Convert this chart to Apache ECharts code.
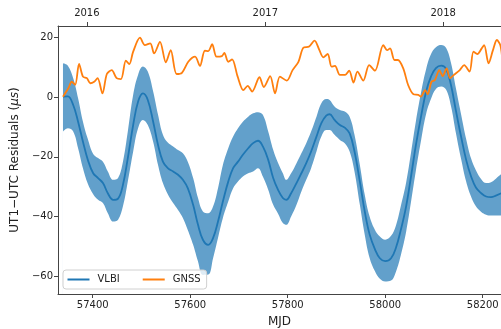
<!DOCTYPE html>
<html><head><meta charset="utf-8">
<script src="https://cdn.jsdelivr.net/npm/echarts@6/dist/echarts.min.js"></script>
<style>html,body{margin:0;padding:0;background:#fff}#c{width:501px;height:329px}</style>
</head><body><div id="c"></div>
<script>
const vlbiMjd = [57339,57349,57360,57370,57380,57390,57401,57411,57421,57431,57442,57452,57462,57472,57483,57493,57503,57513,57524,57534,57544,57554,57565,57575,57585,57595,57606,57616,57626,57637,57647,57657,57667,57678,57688,57698,57708,57719,57729,57739,57749,57760,57770,57780,57790,57797,57807,57818,57828,57838,57848,57859,57869,57879,57886,57896,57907,57917,57927,57937,57948,57958,57968,57979,57989,58000,58012,58022,58032,58043,58053,58063,58074,58084,58094,58104,58115,58125,58135,58145,58156,58166,58176,58186,58197,58207,58217,58227,58238];
const vlbiMean = [0.2,0.3,-2.6,-8.2,-14.9,-21,-25.5,-27.1,-28.8,-32.2,-34.4,-34,-29.4,-20.4,-9.3,-1.5,1.3,-0.9,-8.2,-16,-21.6,-23.8,-24.9,-26,-27.7,-30.5,-36.1,-42.8,-47.8,-49.5,-47.2,-41.7,-35,-28.3,-23.8,-21.6,-19.3,-17.1,-15.4,-14.6,-16.5,-21,-27,-31,-33.8,-34.4,-32.2,-28.8,-25.5,-22.1,-18.2,-13.2,-8.7,-6.2,-5.7,-7.6,-9.3,-10.2,-12.1,-18.2,-28.3,-38.3,-46,-51,-54,-55,-54,-50.5,-44.5,-36.5,-26.5,-16,-6,2,7,9.8,10.6,9.5,4,-4.5,-13.5,-21,-26.5,-30.3,-32.2,-33.3,-33.5,-33,-32.2];
const vlbiUpper = [11.4,10.6,6.4,-0.3,-8.2,-14,-19,-20.4,-21.6,-24.9,-27.7,-27.1,-21.6,-11.5,0.8,7.5,10.3,8.6,1.9,-5.9,-12.6,-15.2,-16.5,-17.7,-18.8,-21.6,-27.1,-33.8,-38.3,-38.9,-36.6,-30.5,-22.7,-17.1,-13.2,-10.4,-8.2,-6.5,-5.4,-5,-5.9,-11.5,-17.5,-22,-25.5,-27.7,-25.5,-22.1,-18.8,-15.4,-11.5,-6.5,-2,-0.6,-0.9,-3.1,-4.3,-4.8,-6.5,-12.6,-22.7,-32.7,-40,-44.5,-46.7,-47.8,-46.5,-43,-36.5,-28.5,-18.5,-8,2,9.5,14.5,16.8,17.5,16.5,11.5,3,-6,-14,-20.5,-24.5,-27.5,-28.8,-28.5,-27.3,-25.8];
const vlbiLower = [-11.5,-10.4,-11.5,-17.1,-23.8,-29,-32.5,-34.4,-35.5,-38.9,-41.7,-41.1,-36.6,-28.3,-18.2,-10.4,-7.6,-9.3,-14.9,-22.7,-28.8,-32.5,-35.5,-37.8,-40.5,-44.5,-49.5,-55.1,-59.6,-59.5,-53.9,-47.2,-40.5,-35,-30.5,-28.3,-26.6,-25.5,-24.9,-23.8,-26.6,-31,-36,-39,-42.2,-42.8,-40,-36.1,-31.6,-27.7,-23.8,-18.2,-13.2,-11,-11,-12.6,-14.3,-15.4,-18.2,-24.9,-36.1,-46.1,-53.9,-58.4,-60.9,-61.8,-61.5,-58.5,-53,-45,-35,-24.5,-14,-5.5,-0.5,2.8,3.6,2.5,-3,-12,-21,-28.3,-33.3,-36.6,-38.5,-39.4,-39.7,-39.7,-39.7];
const gnssMjd = [57339,57350,57357,57364,57372,57380,57388,57395,57403,57410,57420,57429,57439,57449,57458,57468,57475,57483,57497,57507,57518,57526,57538,57550,57560,57572,57583,57596,57610,57620,57630,57637,57645,57654,57665,57670,57678,57686,57697,57709,57718,57727,57742,57751,57764,57774,57784,57798,57810,57822,57832,57844,57855,57865,57873,57882,57890,57897,57907,57918,57926,57935,57943,57955,57967,57979,57996,58004,58010,58019,58026,58037,58047,58058,58068,58073,58082,58087,58095,58102,58111,58118,58126,58133,58141,58153,58162,58173,58181,58189,58198,58203,58212,58221,58229,58236,58240];
const gnssVal = [0.2,3.0,5.2,4.2,11.2,6.9,6.4,4.7,5.2,6.4,1.3,7.8,9.1,6.4,6.1,12.3,11.1,15.3,20.0,17.5,18.1,14.7,18.6,11.7,15.8,7.8,8.2,11.9,13.6,10.5,15.6,15.5,17.8,13.6,13.8,14.9,11.9,12.7,7.1,2.4,3.8,1.9,6.7,3.4,7.1,1.3,6.9,5.6,9.1,11.9,16.6,17.0,19.0,15.8,13.4,14.5,10.3,10.5,7.5,7.5,8.9,4.9,8.6,5.6,10.8,8.9,17.5,15.8,16.4,12.5,12.5,9.7,4.1,1.0,0.8,0.2,2.4,1.0,5.2,5.8,9.1,7.1,9.7,6.4,7.5,9.1,10.8,8.6,15.3,14.5,16.4,17.5,11.4,15.8,19.2,17.5,13];
const mjdTicks = [57400,57600,57800,58000,58200];
const yTicks = [-60,-40,-20,0,20];
const yearTickMjd = [57388,57754,58119];
const yearLabels = ['2016','2017','2018'];

const FONT = 'DejaVu Sans';
const TXT = '#222';
const AX = '#444';
const xMin = 57328.8, xMax = 58237.5, yMin = -66.0, yMax = 23.9;
const pair = (xs, ys) => xs.map((x, i) => [x, ys[i]]);
const minus = v => String(v).replace('-', '\u2212');

const chart = echarts.init(document.getElementById('c'), null, {renderer: 'canvas'});
chart.setOption({
  animation: false,
  backgroundColor: '#fff',
  textStyle: {fontFamily: FONT},
  grid: {left: 58, right: 0, top: 26, bottom: 35, containLabel: false, outerBoundsMode: 'none'},
  xAxis: [{
    type: 'value', min: xMin, max: xMax, position: 'bottom', z: 10,
    name: 'MJD', nameLocation: 'middle', nameGap: 22,
    nameTextStyle: {fontFamily: FONT, fontSize: 12, color: TXT},
    axisLine: {show: true, onZero: false, lineStyle: {color: AX, width: 1}},
    axisTick: {show: true, inside: false, length: 4, lineStyle: {color: AX}, customValues: mjdTicks},
    axisLabel: {fontFamily: FONT, fontSize: 10, color: TXT, margin: 6, customValues: mjdTicks, formatter: v => String(v)},
    splitLine: {show: false}
  }, {
    type: 'value', min: xMin, max: xMax, position: 'top', z: 10,
    axisLine: {show: true, onZero: false, lineStyle: {color: AX, width: 1}},
    axisTick: {show: true, inside: false, length: 4, lineStyle: {color: AX}, customValues: yearTickMjd},
    axisLabel: {fontFamily: FONT, fontSize: 10, color: TXT, margin: 8, customValues: yearTickMjd,
      formatter: v => yearLabels[yearTickMjd.indexOf(v)] || ''},
    splitLine: {show: false}
  }],
  yAxis: {
    type: 'value', min: yMin, max: yMax, z: 10,
    name: '{n|UT1\u2212UTC Residuals (}{i|\u03bcs}{n|)}', nameLocation: 'middle', nameGap: 36, nameRotate: 90,
    nameTextStyle: {fontFamily: FONT, fontSize: 12, color: TXT,
      rich: {n: {fontFamily: FONT, fontSize: 12, color: TXT}, i: {fontFamily: FONT, fontSize: 12, color: TXT, fontStyle: 'italic'}}},
    axisLine: {show: true, onZero: false, lineStyle: {color: AX, width: 1}},
    axisTick: {show: true, inside: false, length: 4, lineStyle: {color: AX}, customValues: yTicks},
    axisLabel: {fontFamily: FONT, fontSize: 10, color: TXT, margin: 5, customValues: yTicks, formatter: minus},
    splitLine: {show: false}
  },
  legend: {
    data: ['VLBI', 'GNSS'], left: 63, top: 270, orient: 'horizontal', z: 20,
    icon: 'rect', itemWidth: 22, itemHeight: 2, itemGap: 23,
    padding: [3, 6, 3, 4.5],
    backgroundColor: 'rgba(255,255,255,0.8)', borderColor: '#d0d0d0', borderWidth: 1, borderRadius: 3,
    textStyle: {fontFamily: FONT, fontSize: 10, color: TXT, lineHeight: 13, padding: [0, 0, 0, 3]}
  },
  series: [{
    name: 'bandUpper', type: 'line', data: pair(vlbiMjd, vlbiUpper),
    symbol: 'none', smooth: 0.4, lineStyle: {width: 0, opacity: 0}, silent: true, z: 1,
    areaStyle: {color: '#62a0cb', opacity: 1, origin: 'start'}
  }, {
    name: 'bandLower', type: 'line', data: pair(vlbiMjd, vlbiLower),
    symbol: 'none', smooth: 0.4, lineStyle: {width: 0, opacity: 0}, silent: true, z: 1,
    areaStyle: {color: '#ffffff', opacity: 1, origin: 'start'}
  }, {
    name: 'VLBI', type: 'line', data: pair(vlbiMjd, vlbiMean), symbol: 'none', smooth: 0.4, z: 2,
    lineStyle: {color: '#1f77b4', width: 1.8}, itemStyle: {color: '#1f77b4'}
  }, {
    name: 'GNSS', type: 'line', data: pair(gnssMjd, gnssVal), symbol: 'none', smooth: 0.3, z: 3,
    lineStyle: {color: '#ff7f0e', width: 1.8}, itemStyle: {color: '#ff7f0e'}
  }]
});
</script>
</body></html>
